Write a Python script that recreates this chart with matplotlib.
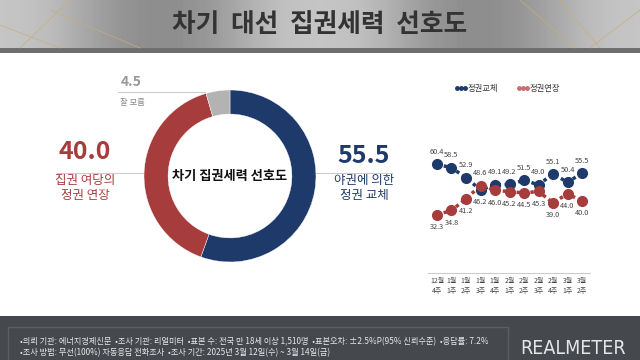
import numpy as np
import matplotlib.pyplot as plt
from matplotlib.patches import Rectangle

plt.rcParams['font.family'] = ['Noto Sans CJK KR', 'DejaVu Sans']

# data
title = '차기  대선  집권세력  선호도'
pie_labels = ['야권에 의한 정권 교체', '집권 여당의 정권 연장', '잘 모름']
pie_values = [55.5, 40.0, 4.5]
weeks = ['12월\n4주', '1월\n1주', '1월\n2주', '1월\n3주', '1월\n4주', '2월\n1주',
         '2월\n2주', '2월\n3주', '2월\n4주', '3월\n1주', '3월\n2주']
change = [60.4, 58.5, 52.9, 46.2, 49.1, 49.2, 51.5, 49.0, 55.1, 50.4, 55.5]
extend = [32.3, 34.8, 41.2, 48.6, 46.0, 45.2, 44.5, 45.3, 39.0, 44.0, 40.0]
notes = ['•의뢰 기관: 에너지경제신문  •조사 기관: 리얼미터  •표본 수: 전국 만 18세 이상 1,510명  '
         '•표본오차: ±2.5%P(95% 신뢰수준)  •응답률: 7.2%',
         '•조사 방법: 무선(100%) 자동응답 전화조사  •조사 기간: 2025년 3월 12일(수) ~ 3월 14일(금)']

NAVY = '#1e3a6b'
RED = '#a63c3c'
GRAY = '#b3b3b3'

W, H = 640, 360
fig = plt.figure(figsize=(6.4, 3.6), dpi=100)
fig.patch.set_facecolor('white')

# background layer in pixel coords
bg = fig.add_axes([0, 0, 1, 1])
bg.set_xlim(0, W)
bg.set_ylim(H, 0)
bg.axis('off')

# header gradient
grad = np.linspace(0, 1, 256)
grad = 0.5 - 0.5 * np.cos(grad * 4 * np.pi)
bg.imshow(np.vstack([grad, grad]), extent=[0, W, 48, 0], cmap='Greys',
          vmin=-1.8, vmax=3.5, aspect='auto')
for x0, y0, x1, y1 in [(20, 48, 70, 0), (50, 10, 140, 48), (0, 25, 60, 48),
                       (560, 0, 600, 48), (590, 48, 640, 10), (520, 0, 575, 48)]:
    bg.plot([x0, x1], [y0, y1], color='#c9ad7a', lw=0.6, alpha=0.8)
bg.add_patch(Rectangle((0, 48), W, 5, color='#6e6e6e', lw=0))
bg.text(320, 24, title, ha='center', va='center', fontsize=18.5,
        fontweight='bold', color='#333333')

# footer
bg.add_patch(Rectangle((0, 316), W, 44, color='#45484c', lw=0))
bg.add_patch(Rectangle((8, 327), 500, 40, fill=False, ec='#5c5f63', lw=1))
bg.text(20, 342, notes[0], fontsize=5.9, color='#e8e8e8', va='center')
bg.text(20, 353, notes[1], fontsize=5.9, color='#e8e8e8', va='center')
bg.text(573, 349, 'REALMETER', fontsize=14, color='#e6e6e6', ha='center',
        va='center', family='DejaVu Sans', fontstretch='condensed',
        fontweight='light')

# donut
cx, cy, r = 230, 176, 86
ax = fig.add_axes([(cx - r) / W, (H - cy - r) / H, 2 * r / W, 2 * r / H])
ax.pie(pie_values, colors=[NAVY, RED, GRAY], startangle=90, counterclock=False,
       radius=1, wedgeprops=dict(width=0.28, edgecolor='white', linewidth=0.3))
ax.set_xlim(-1, 1)
ax.set_ylim(-1, 1)
ax.text(0, 0, '차기 집권세력 선호도', ha='center', va='center',
        fontsize=9.5, fontweight='bold', color='#111111')

# donut callouts
bg.plot([57, 145], [173, 173], color='#cccccc', lw=0.8)
bg.text(85, 152, f'{pie_values[1]:.1f}', ha='center', va='center',
        fontsize=18, fontweight='bold', color=RED)
bg.text(85, 188, '집권 여당의\n정권 연장', ha='center', va='center',
        fontsize=9, color=RED, linespacing=1.25)
bg.plot([315, 392], [173, 173], color='#cccccc', lw=0.8)
bg.text(364, 156, f'{pie_values[0]:.1f}', ha='center', va='center',
        fontsize=18, fontweight='bold', color=NAVY)
bg.text(364, 188, '야권에 의한\n정권 교체', ha='center', va='center',
        fontsize=9, color=NAVY, linespacing=1.25)
bg.plot([118, 205], [92, 92], color='#cccccc', lw=0.8)
bg.text(131, 82, f'{pie_values[2]:.1f}', ha='center', va='center',
        fontsize=10, fontweight='bold', color='#999999')
bg.text(132, 102, '잘 모름', ha='center', va='center', fontsize=6,
        color='#888888')

# legend
bg.plot([457, 461, 465], [88, 88, 88], ls=':', marker='o', ms=2.5, lw=1.5, color=NAVY)
bg.text(468, 88, '정권교체', fontsize=6, va='center', color='#333333')
bg.plot([519, 523, 527], [88, 88, 88], ls=':', marker='o', ms=2.5, lw=1.5, color='#c77070')
bg.text(530, 88, '정권연장', fontsize=6, va='center', color='#333333')

# trend line chart
x = np.arange(len(weeks))
lx = fig.add_axes([428 / W, (H - 273) / H, 162 / W, 133 / H])
lx.set_xlim(-0.62, 10.55)
lx.set_ylim(0, 73.9)
lx.plot(x, change, color=NAVY, lw=2.5, ls=(0, (1, 1)), marker='o', ms=7)
lx.plot(x, extend, color=RED, lw=2.5, ls=(0, (1, 1)), marker='o', ms=7)
for i in x:
    up_c = change[i] >= extend[i]
    lx.annotate(f'{change[i]:.1f}', (i, change[i]), xytext=(0, 6 if up_c else -6),
                textcoords='offset points', ha='center',
                va='bottom' if up_c else 'top', fontsize=5.3, color='#444444')
    lx.annotate(f'{extend[i]:.1f}', (i, extend[i]), xytext=(0, -6 if up_c else 6),
                textcoords='offset points', ha='center',
                va='top' if up_c else 'bottom', fontsize=5.3, color='#444444')
lx.set_xticks(x)
lx.set_xticklabels(weeks, fontsize=5, color='#444444', linespacing=1.3)
lx.set_yticks([])
lx.tick_params(axis='x', length=0, pad=3)
for s in ['top', 'right', 'left']:
    lx.spines[s].set_visible(False)
lx.spines['bottom'].set_color('#cccccc')
lx.spines['bottom'].set_linestyle((0, (2, 1)))
lx.patch.set_alpha(0)

fig.savefig('out.png', dpi=100)
